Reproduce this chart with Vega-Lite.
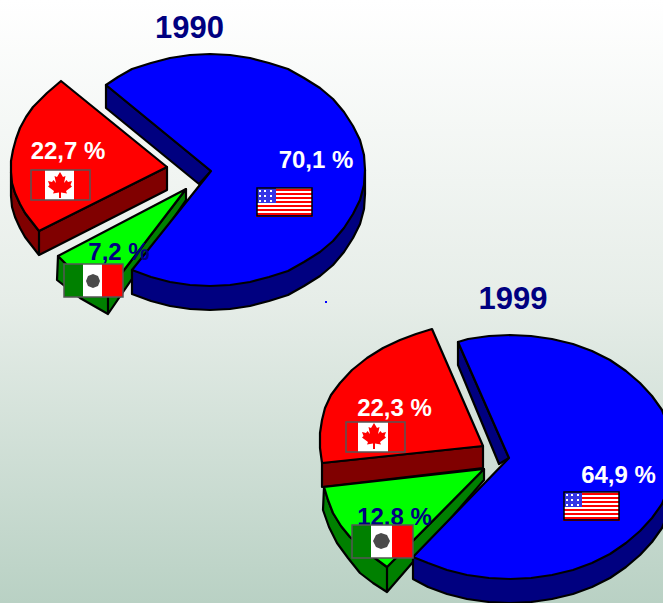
{"$schema":"https://vega.github.io/schema/vega-lite/v6.json","width":663,"height":603,"padding":0,"autosize":{"type":"none"},"background":"#ffffff","config":{"view":{"stroke":null}},"projection":{"type":"identity","scale":1,"translate":[0,0]},
"resolve":{"scale":{"color":"independent","stroke":"independent"}},
"layer":[
{"data":{"values":[{"type":"Feature","properties":{"part":"background"},"geometry":{"type":"Polygon","coordinates":[[[0,0],[663,0],[663,603],[0,603],[0,0]]]}}]},
"mark":{"type":"geoshape","strokeWidth":0,"stroke":null,"fill":{"gradient":"linear","x1":0,"y1":0,"x2":0,"y2":1,"stops":[{"offset":0,"color":"#ffffff"},{"offset":0.5,"color":"#e6ede8"},{"offset":1,"color":"#b9d1c4"}]}}},
{"data":{"values":[
{"type":"Feature","properties":{"year":1990,"country":"Canada","share":22.7,"part":"can_side"},"geometry":{"type":"MultiPolygon","coordinates":[[[[11,172],[11,196],[12,207],[15,217],[20,228],[25,237],[32,246],[39,255],[39,231],[32,222],[25,213],[20,204],[15,193],[12,183],[11,172]]],[[[39,231],[39,255],[167,190],[167,167],[39,231]]]]}},
{"type":"Feature","properties":{"year":1990,"country":"Canada","share":22.7,"part":"can_top"},"geometry":{"type":"Polygon","coordinates":[[[167,167],[61,81],[47,93],[33,107],[26,117],[20,128],[16,139],[13,150],[11,161],[11,172],[12,183],[15,193],[20,204],[25,213],[32,222],[39,231],[167,167]]]}},
{"type":"Feature","properties":{"year":1990,"country":"Mexico","share":7.2,"part":"mex_side"},"geometry":{"type":"MultiPolygon","coordinates":[[[[58,256],[57,280],[80,298],[108,314],[108,291],[85,280],[70,268],[58,256]]],[[[108,291],[108,314],[186,200],[186,189],[108,291]]]]}},
{"type":"Feature","properties":{"year":1990,"country":"Mexico","share":7.2,"part":"mex_top"},"geometry":{"type":"Polygon","coordinates":[[[186,189],[58,256],[70,268],[85,280],[108,291],[186,189]]]}},
{"type":"Feature","properties":{"year":1990,"country":"USA","share":70.1,"part":"usa_side"},"geometry":{"type":"MultiPolygon","coordinates":[[[[106,85],[106,108],[199,184],[211,171],[106,85]]],[[[365,170],[365,194],[364,209],[360,224],[353,238],[344,252],[333,265],[320,276],[304,286],[288,295],[269,301],[250,306],[230,309],[210,310],[190,309],[170,306],[151,301],[132,294],[132,270],[365,170]]]]}},
{"type":"Feature","properties":{"year":1990,"country":"USA","share":70.1,"part":"usa_top"},"geometry":{"type":"Polygon","coordinates":[[[211,171],[106,85],[118,77],[132,69],[151,63],[170,58],[190,55],[210,54],[230,55],[250,58],[269,63],[288,69],[304,78],[320,88],[333,99],[344,112],[353,126],[360,140],[364,155],[365,170],[364,185],[360,200],[353,214],[344,228],[333,241],[320,252],[304,262],[288,271],[269,277],[250,282],[230,285],[210,286],[190,285],[170,282],[151,277],[132,270],[211,171]]]}},
{"type":"Feature","properties":{"year":1999,"country":"Canada","share":22.3,"part":"can_side"},"geometry":{"type":"Polygon","coordinates":[[[322,463],[322,487],[483,468],[483,446],[322,463]]]}},
{"type":"Feature","properties":{"year":1999,"country":"Canada","share":22.3,"part":"can_top"},"geometry":{"type":"Polygon","coordinates":[[[483,446],[432,329],[416,334],[400,340],[383,348],[367,358],[352,370],[340,383],[331,395],[325,408],[322,420],[320,433],[320,448],[322,463],[483,446]]]}},
{"type":"Feature","properties":{"year":1999,"country":"Mexico","share":12.8,"part":"mex_side"},"geometry":{"type":"MultiPolygon","coordinates":[[[[324,487],[323,510],[329,527],[337,543],[348,558],[360,573],[373,583],[387,592],[387,567],[368,553],[350,537],[341,526],[333,513],[328,500],[324,487]]],[[[387,567],[387,592],[484,480],[484,469],[387,567]]]]}},
{"type":"Feature","properties":{"year":1999,"country":"Mexico","share":12.8,"part":"mex_top"},"geometry":{"type":"Polygon","coordinates":[[[484,469],[324,487],[328,500],[333,513],[341,526],[350,537],[368,553],[387,567],[484,469]]]}},
{"type":"Feature","properties":{"year":1999,"country":"USA","share":64.9,"part":"usa_side"},"geometry":{"type":"MultiPolygon","coordinates":[[[[458,342],[458,365],[499,464],[509,458],[458,342]]],[[[674,457],[674,481],[673,497],[668,513],[662,528],[652,542],[640,555],[626,567],[610,578],[592,587],[573,594],[552,599],[531,602],[510,603],[489,602],[467,599],[447,594],[428,587],[413,579],[413,557],[674,457]]]]}},
{"type":"Feature","properties":{"year":1999,"country":"USA","share":64.9,"part":"usa_top"},"geometry":{"type":"Polygon","coordinates":[[[509,458],[458,342],[468,339],[489,336],[510,335],[531,336],[552,339],[573,344],[592,351],[610,360],[626,371],[640,383],[652,396],[662,410],[668,425],[673,441],[674,457],[673,473],[668,489],[662,504],[652,518],[640,531],[626,543],[610,554],[592,563],[573,570],[552,575],[531,578],[510,579],[489,578],[467,575],[447,570],[428,563],[413,557],[509,458]]]}}
]},
"mark":{"type":"geoshape","stroke":"#000000","strokeWidth":2.2,"strokeJoin":"round"},
"encoding":{"color":{"field":"properties.part","type":"nominal","legend":null,"scale":{"domain":["usa_top","usa_side","can_top","can_side","mex_top","mex_side"],"range":["#0000ff","#000080","#ff0000","#800000","#00ff00","#008000"]}}}},
{"data":{"values":[
{"label":"1990","lon":189.5,"lat":38,"kind":"title"},
{"label":"1999","lon":513,"lat":309,"kind":"title"}]},
"mark":{"type":"text","font":"Liberation Sans","fontWeight":"bold","fontSize":31,"align":"center","baseline":"alphabetic","color":"#000080"},
"encoding":{"longitude":{"field":"lon","type":"quantitative"},"latitude":{"field":"lat","type":"quantitative"},"text":{"field":"label"}}},
{"data":{"values":[
{"label":"70,1 %","year":1990,"country":"USA","lon":316,"lat":168,"tone":"light"},
{"label":"22,7 %","year":1990,"country":"Canada","lon":68,"lat":159,"tone":"light"},
{"label":"7,2 %","year":1990,"country":"Mexico","lon":119,"lat":260,"tone":"dark"},
{"label":"64,9 %","year":1999,"country":"USA","lon":618.5,"lat":483,"tone":"light"},
{"label":"22,3 %","year":1999,"country":"Canada","lon":394.5,"lat":416,"tone":"light"},
{"label":"12,8 %","year":1999,"country":"Mexico","lon":394.5,"lat":525,"tone":"dark"}]},
"mark":{"type":"text","font":"Liberation Sans","fontWeight":"bold","fontSize":24,"align":"center","baseline":"alphabetic"},
"encoding":{"longitude":{"field":"lon","type":"quantitative"},"latitude":{"field":"lat","type":"quantitative"},"text":{"field":"label"},"color":{"field":"tone","type":"nominal","legend":null,"scale":{"domain":["light","dark"],"range":["#ffffff","#000080"]}}}},
{"data":{"values":[
{"type":"Feature","properties":{"part":"white"},"geometry":{"type":"MultiPolygon","coordinates":[[[[45,170],[74,170],[74,200],[45,200],[45,170]]],[[[358,422],[388,422],[388,452],[358,452],[358,422]]],[[[83,264],[102,264],[102,297],[83,297],[83,264]]],[[[371,525],[392,525],[392,558],[371,558],[371,525]]],[[[257,188],[312,188],[312,215],[257,215],[257,188]]],[[[564,492],[619,492],[619,519],[564,519],[564,492]]]]}},
{"type":"Feature","properties":{"part":"red"},"geometry":{"type":"MultiPolygon","coordinates":[[[[31,170],[45,170],[45,200],[31,200],[31,170]]],[[[74,170],[90,170],[90,200],[74,200],[74,170]]],[[[346,422],[358,422],[358,452],[346,452],[346,422]]],[[[388,422],[405,422],[405,452],[388,452],[388,422]]],[[[102,264],[123,264],[123,297],[102,297],[102,264]]],[[[392,525],[413,525],[413,558],[392,558],[392,525]]],
[[[257,189],[312,189],[312,191],[257,191],[257,189]]],[[[257,193],[312,193],[312,195],[257,195],[257,193]]],[[[257,197],[312,197],[312,199],[257,199],[257,197]]],[[[257,201],[312,201],[312,203],[257,203],[257,201]]],[[[257,205],[312,205],[312,207],[257,207],[257,205]]],[[[257,209],[312,209],[312,211],[257,211],[257,209]]],[[[257,213],[312,213],[312,215],[257,215],[257,213]]],[[[256,216],[313,216],[313,217],[256,217],[256,216]]],
[[[564,493],[619,493],[619,495],[564,495],[564,493]]],[[[564,497],[619,497],[619,499],[564,499],[564,497]]],[[[564,501],[619,501],[619,503],[564,503],[564,501]]],[[[564,505],[619,505],[619,507],[564,507],[564,505]]],[[[564,509],[619,509],[619,511],[564,511],[564,509]]],[[[564,513],[619,513],[619,515],[564,515],[564,513]]],[[[564,517],[619,517],[619,519],[564,519],[564,517]]],[[[563,520],[620,520],[620,521],[563,521],[563,520]]]]}},
{"type":"Feature","properties":{"part":"leaf"},"geometry":{"type":"MultiPolygon","coordinates":[[[[60,172],[57,177],[54.5,176],[56,183],[53.5,180],[52,182],[48,181],[49.5,185],[48,186.5],[54,191],[53,193.5],[59,192.5],[59,198],[61,198],[61,192.5],[67,193.5],[66,191],[72,186.5],[70.5,185],[72,181],[68,182],[66.5,180],[64,183],[65.5,176],[63,177],[60,172]]],[[[374,423],[371,428],[368.5,427],[370,434],[367.5,431],[366,433],[362,432],[363.5,436],[362,437.5],[368,442],[367,444.5],[373,443.5],[373,449],[375,449],[375,443.5],[381,444.5],[380,442],[386,437.5],[384.5,436],[386,432],[382,433],[380.5,431],[378,434],[379.5,427],[377,428],[374,423]]]]}},
{"type":"Feature","properties":{"part":"green"},"geometry":{"type":"MultiPolygon","coordinates":[[[[64,264],[83,264],[83,297],[64,297],[64,264]]],[[[352,525],[371,525],[371,558],[352,558],[352,525]]]]}},
{"type":"Feature","properties":{"part":"emblem"},"geometry":{"type":"MultiPolygon","coordinates":[[[[93,274],[98,276],[100,281],[98,286],[93,288],[88,286],[86,281],[88,276],[93,274]]],[[[381,533],[387,535],[390,541],[387,547],[381,549],[376,547],[373,541],[376,535],[381,533]]]]}},
{"type":"Feature","properties":{"part":"canton"},"geometry":{"type":"MultiPolygon","coordinates":[[[[257,188],[276,188],[276,203],[257,203],[257,188]]],[[[564,492],[582,492],[582,507],[564,507],[564,492]]]]}},
{"type":"Feature","properties":{"part":"star"},"geometry":{"type":"MultiPolygon","coordinates":[[[[259,190],[261,190],[261,192],[259,192],[259,190]]],[[[264,190],[266,190],[266,192],[264,192],[264,190]]],[[[270,190],[272,190],[272,192],[270,192],[270,190]]],[[[259,195],[261,195],[261,197],[259,197],[259,195]]],[[[264,195],[266,195],[266,197],[264,197],[264,195]]],[[[270,195],[272,195],[272,197],[270,197],[270,195]]],[[[259,200],[261,200],[261,202],[259,202],[259,200]]],[[[264,200],[266,200],[266,202],[264,202],[264,200]]],[[[270,200],[272,200],[272,202],[270,202],[270,200]]],[[[566,494],[568,494],[568,496],[566,496],[566,494]]],[[[571,494],[573,494],[573,496],[571,496],[571,494]]],[[[577,494],[579,494],[579,496],[577,496],[577,494]]],[[[566,499],[568,499],[568,501],[566,501],[566,499]]],[[[571,499],[573,499],[573,501],[571,501],[571,499]]],[[[577,499],[579,499],[579,501],[577,501],[577,499]]],[[[566,504],[568,504],[568,506],[566,506],[566,504]]],[[[571,504],[573,504],[573,506],[571,506],[571,504]]],[[[577,504],[579,504],[579,506],[577,506],[577,504]]]]}},
{"type":"Feature","properties":{"part":"dot"},"geometry":{"type":"Polygon","coordinates":[[[325,301],[327,301],[327,303],[325,303],[325,301]]]}}
]},
"mark":{"type":"geoshape","strokeWidth":0},
"encoding":{"color":{"field":"properties.part","type":"nominal","legend":null,"scale":{"domain":["white","red","leaf","green","emblem","canton","star","dot"],"range":["#ffffff","#ff0000","#ff0000","#008000","#4a4a4a","#3434e6","#ffffff","#0000ff"]}}}},
{"data":{"values":[
{"type":"Feature","properties":{"part":"plain"},"geometry":{"type":"MultiPolygon","coordinates":[[[[31,170],[90,170],[90,200],[31,200],[31,170]]],[[[346,422],[405,422],[405,452],[346,452],[346,422]]],[[[64,264],[123,264],[123,297],[64,297],[64,264]]],[[[352,525],[413,525],[413,558],[352,558],[352,525]]]]}},
{"type":"Feature","properties":{"part":"usa"},"geometry":{"type":"MultiPolygon","coordinates":[[[[257,188],[312,188],[312,216],[257,216],[257,188]]],[[[564,492],[619,492],[619,520],[564,520],[564,492]]]]}}
]},
"mark":{"type":"geoshape","filled":false,"strokeWidth":1.5},
"encoding":{"stroke":{"field":"properties.part","type":"nominal","legend":null,"scale":{"domain":["plain","usa"],"range":["#555555","#000000"]}}}}
]}
